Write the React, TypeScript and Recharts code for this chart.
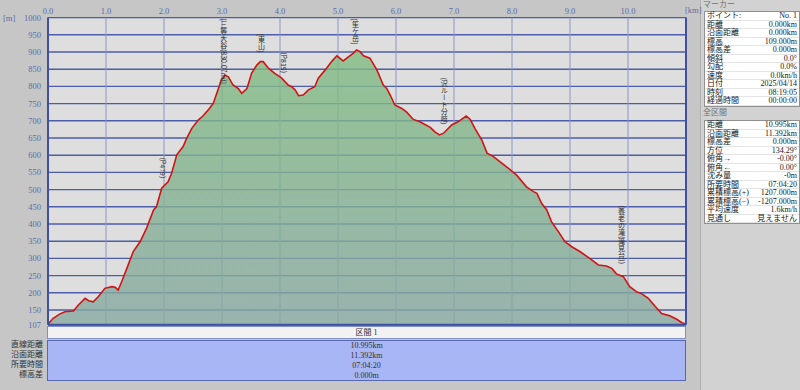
import React from "react";
import {
  ComposedChart,
  Area,
  Scatter,
  XAxis,
  YAxis,
  CartesianGrid,
  ReferenceLine,
} from "recharts";

// 距離 [km] と標高 [m]
const distanceKm = [
  0.0, 0.09, 0.2, 0.29, 0.44, 0.52, 0.64, 0.7, 0.78, 0.87, 0.98, 1.1, 1.16, 1.21,
  1.27, 1.36, 1.47, 1.59, 1.7, 1.82, 1.87, 1.96, 2.07, 2.13, 2.22, 2.33, 2.39,
  2.48, 2.59, 2.67, 2.76, 2.85, 2.91, 2.99, 3.05, 3.11, 3.19, 3.28, 3.34, 3.43,
  3.51, 3.6, 3.66, 3.71, 3.8, 3.91, 4.03, 4.14, 4.2, 4.26, 4.32, 4.4, 4.49, 4.6,
  4.66, 4.78, 4.89, 4.98, 5.09, 5.18, 5.26, 5.32, 5.38, 5.44, 5.55, 5.67, 5.72,
  5.78, 5.84, 5.9, 5.98, 6.1, 6.18, 6.3, 6.41, 6.59, 6.67, 6.75, 6.82, 6.96, 7.07,
  7.21, 7.28, 7.36, 7.48, 7.57, 7.68, 7.79, 7.94, 8.08, 8.25, 8.37, 8.43, 8.51,
  8.6, 8.68, 8.8, 8.91, 9.03, 9.17, 9.34, 9.49, 9.63, 9.72, 9.8, 9.92, 10.03,
  10.15, 10.24, 10.35, 10.47, 10.58, 10.72, 10.84, 10.93, 10.995,
];
const elevationM = [
  109, 126, 138, 145, 147, 164, 184, 177, 174, 189, 213, 218, 216, 208,
  232, 271, 320, 349, 388, 441, 450, 504, 523, 547, 601, 625, 649,
  678, 702, 714, 731, 751, 780, 819, 833, 828, 804, 794, 780, 794,
  838, 862, 872, 872, 853, 838, 824, 804, 799, 790, 773, 775, 790, 799,
  824, 848, 872, 889, 874, 886, 896, 906, 901, 889, 882, 848, 828,
  804, 794, 775, 746, 736, 726, 704, 697, 681, 668, 659, 664, 688, 697,
  714, 704, 678, 644, 606, 596, 581, 562, 542, 508, 494, 489, 460,
  441, 407, 378, 349, 334, 320, 300, 281, 278, 271, 255, 247, 218,
  203, 197, 184, 160, 140, 133, 123, 113, 109,
];

// 地点名
const markerNames = [
  "(P479)",
  "[三等大谷(830.07m)]",
  "[東山]",
  "(P815)",
  "[笙ケ岳]",
  "(沢ルート分岐)",
  "(養老の滝(滝見台))",
];
const markerKm = [1.98, 3.03, 3.68, 4.07, 5.3, 6.83, 9.89];
const markerM = [512, 830, 872, 818, 905, 663, 250];

const xTicks = [0, 1, 2, 3, 4, 5, 6, 7, 8, 9, 10];
const yTicks = [107, 150, 200, 250, 300, 350, 400, 450, 500, 550, 600, 650, 700, 750, 800, 850, 900, 950, 1000];

const markerRows = [
  ["ポイント:", "No. 1"],
  ["距離", "0.000km"],
  ["沿面距離", "0.000km"],
  ["標高", "109.000m"],
  ["標高差", "0.000m"],
  ["傾斜", "0.0°"],
  ["勾配", "0.0%"],
  ["速度", "0.0km/h"],
  ["日付", "2025/04/14"],
  ["時刻", "08:19:05"],
  ["経過時間", "00:00:00"],
];
const totalRows = [
  ["距離", "10.995km"],
  ["沿面距離", "11.392km"],
  ["標高差", "0.000m"],
  ["方位", "134.29°"],
  ["俯角→", "-0.00°"],
  ["俯角←", "0.00°"],
  ["沈み量", "-0m"],
  ["所要時間", "07:04:20"],
  ["累積標高(+)", "1207.000m"],
  ["累積標高(−)", "-1207.000m"],
  ["平均速度", "1.6km/h"],
  ["見通し", "見えません"],
];
const sectionLabels = ["直線距離", "沿面距離", "所要時間", "標高差"];
const sectionValues = ["10.995km", "11.392km", "07:04:20", "0.000m"];

const profile = distanceKm.map((km, i) => ({ km, m: elevationM[i] }));
const markers = markerNames.map((name, i) => ({ km: markerKm[i], m: markerM[i], name }));

const PLOT_TOP = 17.6;
const FONT = "'Liberation Serif', 'Noto Sans CJK JP', serif";
const LABEL_FS = 7;

const textLen = (s: string) =>
  Array.from(s).reduce((a, ch) => a + (ch.charCodeAt(0) > 0x2000 ? LABEL_FS : LABEL_FS * 0.5), 0);

const MarkerLabel = (props: any) => {
  const { cx, cy, payload } = props;
  if (cx == null || cy == null) return null;
  const bottom = cy - 7;
  const top = Math.max(PLOT_TOP + 1, bottom - textLen(payload.name));
  return (
    <text
      x={cx}
      y={top}
      fontSize={LABEL_FS}
      fill="#303030"
      fontFamily="'Noto Sans CJK JP', sans-serif"
      style={{ writingMode: "vertical-rl" } as any}
    >
      {payload.name}
    </text>
  );
};

const InfoTable = ({ rows, top }: { rows: string[][]; top: number }) => (
  <div
    style={{
      position: "absolute",
      left: 704,
      top,
      width: 94,
      background: "#ffffff",
      border: "1px solid #909090",
    }}
  >
    {rows.map(([k, v]) => (
      <div
        key={k}
        style={{
          display: "flex",
          justifyContent: "space-between",
          height: 8.5,
          lineHeight: "8.5px",
          fontSize: 8,
          color: "#202020",
          padding: "0 2px",
          borderBottom: "1px solid #e4e4e4",
          boxSizing: "border-box",
        }}
      >
        <span>{k}</span>
        <span>{v}</span>
      </div>
    ))}
  </div>
);

export default function App() {
  return (
    <div
      style={{
        position: "fixed",
        left: 0,
        top: 0,
        width: 800,
        height: 390,
        background: "#c6c6c6",
        overflow: "hidden",
        fontFamily: FONT,
      }}
    >
      {/* 右パネル */}
      <div
        style={{
          position: "absolute",
          left: 700,
          top: 0,
          width: 100,
          height: 390,
          background: "#d2d2d2",
          borderLeft: "1px solid #b0b0b0",
        }}
      />
      <ComposedChart
        width={800}
        height={390}
        data={profile}
        margin={{ top: 1.6, right: 114, bottom: 65.2, left: 8 }}
        style={{ position: "absolute", left: 0, top: 0 }}
      >
        <defs>
          <linearGradient id="fillGrad" x1="0" y1="0" x2="0" y2="1">
            <stop offset="0%" stopColor="#80bc80" />
            <stop offset="100%" stopColor="#88a8a2" />
          </linearGradient>
        </defs>
        <CartesianGrid vertical={false} stroke="#4c5ca8" strokeWidth={1.4} fill="#dedede" />
        <CartesianGrid horizontal={false} stroke="#8a96c6" strokeWidth={1} />
        <XAxis
          dataKey="km"
          type="number"
          orientation="top"
          domain={[0, 11]}
          ticks={xTicks}
          interval={0}
          height={16}
          axisLine={false}
          tickLine={false}
          tickSize={2}
          tickMargin={2}
          tickFormatter={(v: number) => v.toFixed(1)}
          tick={{ fontSize: 8.5, fill: "#5c6cac", fontFamily: FONT }}
          allowDataOverflow
        />
        <YAxis
          dataKey="m"
          type="number"
          domain={[107, 1000]}
          ticks={yTicks}
          interval={0}
          width={40}
          axisLine={false}
          tickLine={false}
          tickSize={5}
          tickMargin={2}
          tick={{ fontSize: 8.5, fill: "#5c6cac", fontFamily: FONT }}
          allowDataOverflow
        />
        <Area
          type="linear"
          dataKey="m"
          stroke="#d01414"
          strokeWidth={1.6}
          fill="url(#fillGrad)"
          fillOpacity={0.8}
          dot={false}
          activeDot={false}
          isAnimationActive={false}
        />
        <ReferenceLine x={0} stroke="#4050a0" strokeWidth={2} />
        <ReferenceLine x={11} stroke="#4050a0" strokeWidth={2} />
        <ReferenceLine y={107} stroke="#4050a0" strokeWidth={2} />
        <Scatter
          data={markers}
          dataKey="m"
          shape={<MarkerLabel />}
          isAnimationActive={false}
        />
      </ComposedChart>

      {/* 軸の単位 */}
      <div style={{ position: "absolute", left: 3, top: 13, fontSize: 8.5, color: "#5c6cac" }}>[m]</div>
      <div style={{ position: "absolute", left: 685, top: 5, fontSize: 8.5, color: "#5c6cac" }}>[km]</div>

      {/* 区間表 */}
      <div
        style={{
          position: "absolute",
          left: 47,
          top: 326,
          width: 639,
          height: 13,
          background: "#f2f2f2",
          border: "1px solid #8090c0",
          boxSizing: "border-box",
          textAlign: "center",
          fontSize: 8,
          lineHeight: "11px",
          color: "#303030",
        }}
      >
        区間 1
      </div>
      <div
        style={{
          position: "absolute",
          left: 47,
          top: 340,
          width: 639,
          height: 41,
          background: "#a8b6f6",
          border: "1px solid #5868b0",
          boxSizing: "border-box",
          textAlign: "center",
          fontSize: 8,
          color: "#303030",
        }}
      >
        {sectionValues.map((v) => (
          <div key={v} style={{ height: 10, lineHeight: "10px" }}>{v}</div>
        ))}
      </div>
      <div
        style={{
          position: "absolute",
          left: 0,
          top: 340,
          width: 43,
          textAlign: "right",
          fontSize: 8,
          color: "#303030",
        }}
      >
        {sectionLabels.map((v) => (
          <div key={v} style={{ height: 10, lineHeight: "10px" }}>{v}</div>
        ))}
      </div>

      <div style={{ position: "absolute", left: 703, top: 0, fontSize: 8, color: "#707070", lineHeight: "10px" }}>
        マーカー
      </div>
      <InfoTable rows={markerRows} top={11} />
      <div style={{ position: "absolute", left: 703, top: 108, fontSize: 8, color: "#707070", lineHeight: "10px" }}>
        全区間
      </div>
      <InfoTable rows={totalRows} top={120} />
    </div>
  );
}
